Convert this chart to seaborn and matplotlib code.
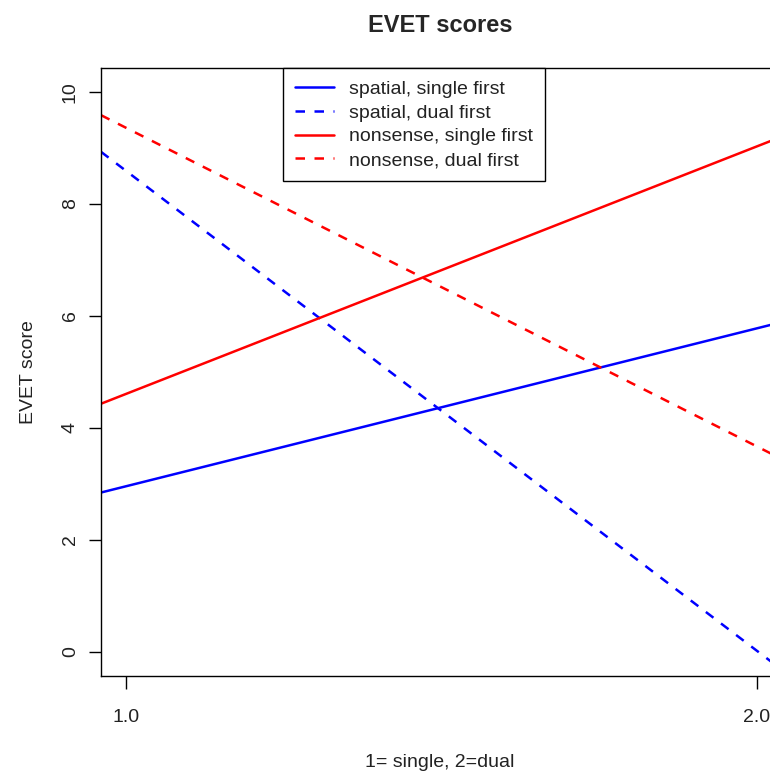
import matplotlib
matplotlib.use("Agg")
import matplotlib.pyplot as plt
import seaborn as sns
import pandas as pd

# Data: EVET score at x = 1 (single) and x = 2 (dual)
x_vals = [1.0, 2.0]
spatial_single = [2.96, 5.78]
spatial_dual = [8.59, 0.02]
nonsense_single = [4.61, 9.03]
nonsense_dual = [9.36, 3.67]

series_names = ["spatial, single first", "spatial, dual first",
                "nonsense, single first", "nonsense, dual first"]
series_values = [spatial_single, spatial_dual, nonsense_single, nonsense_dual]
series_colors = ["#0000FF", "#0000FF", "#FF0000", "#FF0000"]
series_dashed = [False, True, False, True]

x_ticks = [1.0, 2.0]
x_tick_labels = ["1.0", "2.0"]
y_ticks = [0, 2, 4, 6, 8, 10]

sns.set_style("white")
plt.rcParams['font.family'] = ['Liberation Sans', 'DejaVu Sans']

fig = plt.figure(figsize=(7.70, 7.71), dpi=100)
ax = fig.add_axes([101/770, (771-676)/771, (779-101)/770, (676-68)/771])

xlim = (0.96, 2.035)
ylim = (-0.43, 10.43)
ax.set_xlim(*xlim)
ax.set_ylim(*ylim)

for name, vals, col, dashed in zip(series_names, series_values, series_colors, series_dashed):
    df = pd.DataFrame({"x": x_vals, "y": vals})
    kws = {"color": col, "linewidth": 1.8}
    if dashed:
        kws["dashes"] = (3.8, 3.8)
    sns.regplot(data=df, x="x", y="y", ax=ax, scatter=False, ci=None,
                truncate=False, line_kws=kws, label=name)
    ax.set_xlim(*xlim)
    ax.set_ylim(*ylim)

ax.set_xticks(x_ticks)
ax.set_xticklabels(x_tick_labels)
ax.set_yticks(y_ticks)
ax.set_yticklabels([str(v) for v in y_ticks], rotation=90, va="center")

ax.tick_params(axis="both", direction="out", length=9, width=1,
               color="black", labelsize=14, labelcolor="#222222",
               left=True, bottom=True)
ax.tick_params(axis="x", pad=15)
ax.tick_params(axis="y", pad=7)

for s in ax.spines.values():
    s.set_color("black")
    s.set_linewidth(1)
    s.set_visible(True)

ax.set_xlabel("1= single, 2=dual", fontsize=14, color="#222222", labelpad=20)
ax.set_ylabel("EVET score", fontsize=14, color="#222222", labelpad=18)
ax.set_title("EVET scores", fontsize=17, fontweight="bold", pad=26)

leg = ax.legend(loc="upper center", bbox_to_anchor=(0.4617, 1.0),
                borderaxespad=0, fontsize=14, frameon=True, fancybox=False,
                handlelength=2.0, handletextpad=0.75, labelspacing=0.32,
                borderpad=0.62, framealpha=1)
leg.get_frame().set_edgecolor("black")
leg.get_frame().set_linewidth(1)
for t in leg.get_texts():
    t.set_color("#222222")

fig.savefig("out.png", dpi=100)
